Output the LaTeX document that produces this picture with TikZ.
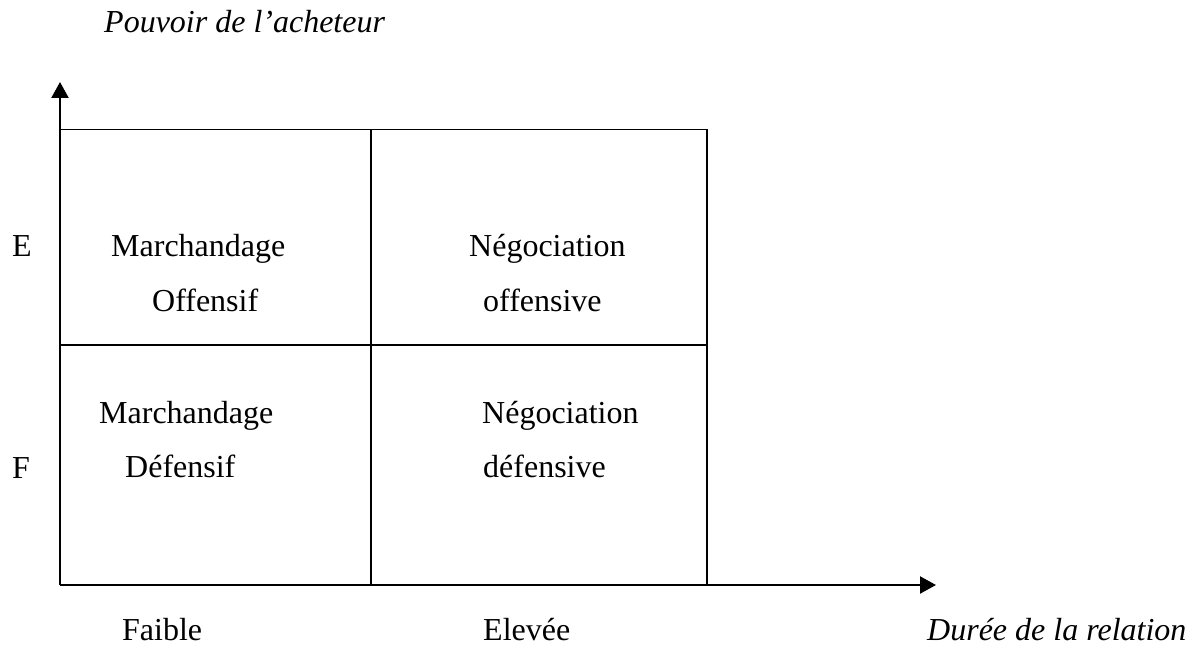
\documentclass[tikz,border=0pt]{standalone}
\usepackage{fontspec}
\setmainfont{Liberation Serif}
\usetikzlibrary{arrows.meta}
\begin{document}
\begin{tikzpicture}[x=1bp,y=-1bp,
  lbl/.style={anchor=base west,inner sep=0pt,font=\fontsize{32bp}{38bp}\selectfont},
  axislbl/.style={lbl,font=\fontsize{32bp}{38bp}\selectfont\itshape},
  axis/.style={line width=2.2bp,-{Triangle[length=16bp,width=17bp]}},
  vline/.style={line width=2.2bp},
  hline/.style={line width=1.6bp}]
\useasboundingbox (0,0) rectangle (1197,648);
% corners of the grid
\coordinate (o) at (60,585);
\coordinate (ytip) at (60,82);
\coordinate (xtip) at (936,585);
\coordinate (tl) at (60,129.5);
\coordinate (tm) at (371,129.5);
\coordinate (tr) at (707,129.5);
\coordinate (ml) at (60,345);
\coordinate (mr) at (707,345);
\coordinate (bm) at (371,585);
\coordinate (br) at (707,585);
% axes
\draw[axis] (o) -- (ytip);
\draw[axis] (o) -- (xtip);
% quadrant lines
\draw[hline] (tl) -- (tr);
\draw[hline] (ml) -- (mr);
\draw[vline] (tm) -- (bm);
\draw[vline] (tr) -- (br);
% axis titles and levels
\node[axislbl] (ytitle) at (104,33) {Pouvoir de l’acheteur};
\node[axislbl] (xtitle) at (927,640) {Durée de la relation};
\node[lbl] (hi) at (12,257) {E};
\node[lbl] (lo) at (12,478) {F};
\node[lbl] (faible) at (122,640) {Faible};
\node[lbl] (elevee) at (483,640) {Elevée};
% quadrant contents
\node[lbl] (q1a) at (111,257) {Marchandage};
\node[lbl] (q1b) at (152,312) {Offensif};
\node[lbl] (q2a) at (469,257) {Négociation};
\node[lbl] (q2b) at (483,312) {offensive};
\node[lbl] (q3a) at (99,423) {Marchandage};
\node[lbl] (q3b) at (125,477) {Défensif};
\node[lbl] (q4a) at (482,423) {Négociation};
\node[lbl] (q4b) at (483,477) {défensive};
\end{tikzpicture}
\end{document}
